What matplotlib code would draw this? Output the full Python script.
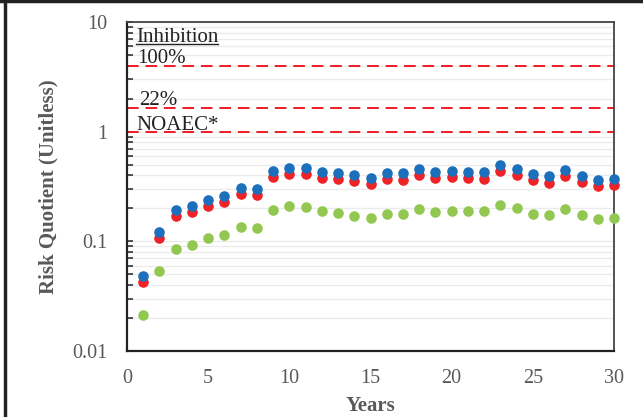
import numpy as np
import matplotlib; matplotlib.use("Agg"); import matplotlib.pyplot as plt
from matplotlib.ticker import LogLocator, FixedLocator, FixedFormatter, NullFormatter
from matplotlib.lines import Line2D

years = list(range(1, 31))
blue = [0.0484, 0.122, 0.192, 0.210, 0.240, 0.258, 0.307, 0.300, 0.441, 0.470,
        0.470, 0.427, 0.423, 0.401, 0.378, 0.421, 0.418, 0.457, 0.430, 0.438,
        0.430, 0.427, 0.494, 0.457, 0.409, 0.392, 0.445, 0.397, 0.365, 0.373]
red = [0.0424, 0.107, 0.171, 0.185, 0.211, 0.227, 0.270, 0.267, 0.389, 0.414,
       0.414, 0.376, 0.371, 0.353, 0.332, 0.368, 0.365, 0.403, 0.381, 0.386,
       0.376, 0.373, 0.435, 0.403, 0.360, 0.343, 0.392, 0.346, 0.320, 0.329]
green = [0.0213, 0.0541, 0.0853, 0.0933, 0.107, 0.114, 0.135, 0.133, 0.193, 0.209,
         0.207, 0.189, 0.183, 0.172, 0.163, 0.179, 0.178, 0.197, 0.187, 0.191,
         0.188, 0.188, 0.216, 0.201, 0.179, 0.173, 0.196, 0.175, 0.161, 0.164]
thresholds = [4.0, 1.65, 1.0]
thr_labels = ["100%", "22%", "NOAEC*"]
yticks = [0.01, 0.1, 1, 10]
ytick_labels = ["0.01", "0.1", "1", "10"]

plt.rcParams['font.family'] = ['Liberation Serif', 'DejaVu Serif']
GRAY = '#595959'
INK = '#222222'

fig = plt.figure(figsize=(6.43, 4.17), dpi=100)
ax = fig.add_axes([127/643, 1-351/417, (614-127)/643, (351-22)/417])

ax.set_yscale('log')
ax.set_ylim(0.01, 10)
ax.set_xlim(0, 30)

# light log grid
ax.yaxis.set_minor_locator(LogLocator(base=10, subs=np.arange(2, 10)))
ax.yaxis.set_minor_formatter(NullFormatter())
ax.grid(True, which='both', axis='y', color='#ebebeb', lw=1.0, zorder=0)

for t in thresholds:
    ax.axhline(t, color='#ee1c25', lw=1.4, ls=(0, (6, 3.5)), zorder=2)

ax.scatter(years, green, s=58, color='#92c851', lw=0, zorder=3, clip_on=False)
ax.scatter(years, red, s=58, color='#ee2227', lw=0, zorder=4, clip_on=False)
ax.scatter(years, blue, s=58, color='#1c6fbb', lw=0, zorder=5, clip_on=False)

ax.yaxis.set_major_locator(FixedLocator(yticks))
ax.yaxis.set_major_formatter(FixedFormatter(ytick_labels))
ax.set_xticks([0, 5, 10, 15, 20, 25, 30])
ax.tick_params(axis='y', which='both', direction='in', length=4, width=1.2,
               color='#333333', labelcolor=GRAY, labelsize=14.5, pad=14)
ax.tick_params(axis='x', length=0, labelcolor=GRAY, labelsize=14.5, pad=13)

for s in ['left', 'bottom']:
    ax.spines[s].set_linewidth(1.6); ax.spines[s].set_color(INK)
for s in ['top', 'right']:
    ax.spines[s].set_linewidth(1.3); ax.spines[s].set_color('#444444')

ax.set_xlabel('Years', fontsize=15, fontweight='bold', color=GRAY, labelpad=6)
ax.set_ylabel('Risk Quotient (Unitless)', fontsize=15, fontweight='bold', color=GRAY, labelpad=10)

# threshold annotations
fs = 15
ax.text(0.6, 6.57, "Inhibition", fontsize=fs, color=INK, va='baseline', ha='left')
ax.plot([0.54, 5.59], [6.33, 6.33], color=INK, lw=1.0, zorder=6)
ax.text(0.6, 4.23, thr_labels[0], fontsize=fs, color=INK, va='baseline', ha='left')
ax.text(0.74, 1.75, thr_labels[1], fontsize=fs, color=INK, va='baseline', ha='left')
ax.text(0.6, 1.036, thr_labels[2], fontsize=fs, color=INK, va='baseline', ha='left')

# outer frame (top and left visible)
fig.add_artist(Line2D([0, 1], [1-1/417, 1-1/417], transform=fig.transFigure, color=INK, lw=2.5))
fig.add_artist(Line2D([5/643, 5/643], [0, 1], transform=fig.transFigure, color=INK, lw=2.5))

fig.savefig("out.png", dpi=100)
